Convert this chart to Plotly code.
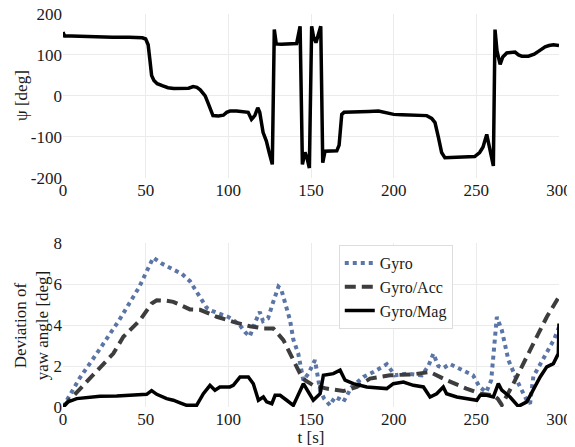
import plotly.graph_objects as go
from plotly.subplots import make_subplots

# ---- Top panel: yaw angle psi ----
t_psi = [0, 0.5, 1, 5, 10, 15, 20, 25, 30, 40, 48, 50, 51.5, 52.5, 53.6, 55, 57, 60, 63.5, 67,
         70, 73, 76, 78.7, 81, 83, 86, 88, 90.7, 94, 97, 99, 101, 105, 109, 112, 114, 116, 117.8, 119,
         121, 123, 124.7, 126.6, 127.8, 129, 132, 136, 139, 141.3, 143.4, 144.8, 146.4, 147.5, 149, 150.4, 151.5, 153, 155.9, 157.1,
         158.5, 162, 165.6, 167, 168.6, 170, 175, 180, 185, 190.8, 195, 200, 205, 210, 215, 220, 223, 225, 227, 229,
         231, 235, 240, 245, 249, 252, 254, 256.3, 258, 260.3, 261.3, 262.5, 264.4, 266, 268.4, 271, 273.4, 275.5, 277.5, 281.5,
         285, 288, 291.6, 294, 296.6, 300]
psi = [156, 148, 146, 146, 145, 145, 144, 144, 143, 143, 142, 139, 125, 90, 50, 38, 30, 25, 20, 18,
       19, 18, 19, 23, 21, 15, 0, -20, -48, -49, -47, -40, -37, -37, -38, -40, -57, -48, -29, -40,
       -89, -110, -138, -167, 162, 127, 126, 127, 126, 128, 170, -167, -138, -150, -176, 170, 145, 130, 170, -163,
       -135, -135, -134, -120, -45, -40, -40, -40, -38, -37, -40, -45, -46, -47, -46, -48, -55, -65, -100, -138,
       -151, -150, -150, -149, -148, -138, -125, -94, -130, -171, 162, 110, 77, 95, 105, 106, 107, 100, 97, 97,
       102, 110, 120, 123, 125, 123]
psi_ticks = [-200, -100, 0, 100, 200]
psi_ticklabels = ["-200", "-100", "0", "100", "200"]

# ---- Bottom panel: deviation of yaw angle ----
t_gyro = [0, 10, 22, 34, 46, 54.6, 60, 66.7, 72, 76.8, 81, 86.9, 90, 95, 100, 103, 107, 110, 113, 116,
          119, 121, 124, 127, 130.3, 132, 135, 137.3, 139.3, 142.3, 145.4, 148.4, 152.4, 155.5, 158, 161.5, 164.5, 167, 169.6, 174.6,
          181.7, 187.7, 195.8, 200.8, 207.9, 212, 217, 221, 224, 227, 230, 234, 241, 248, 252, 256, 259, 262.4, 265.4, 269.4,
          275.5, 280.5, 282.5, 284.5, 288, 293.6, 297, 300]
gyro = [0, 1.4, 2.8, 4.25, 5.85, 7.3, 7.0, 6.75, 6.5, 6.15, 5.6, 4.85, 4.7, 4.57, 4.4, 4.25, 4.0, 3.67, 3.45, 4.1,
        4.65, 4.2, 4.33, 5.1, 5.88, 5.75, 4.9, 4.25, 3.3, 2.6, 1.3, 1.63, 2.29, 0.82, 0.4, 0.08, 0.49, 0.4, 0.25, 0.98,
        1.47, 1.71, 2.09, 1.55, 1.63, 1.6, 1.55, 2.0, 2.61, 2.0, 1.9, 2.1, 1.8, 1.55, 0.98, 0.73, 1.31, 4.4, 3.76, 2.29,
        1.14, 0.33, 0.16, 1.5, 2.0, 2.78, 3.3, 3.9]

t_acc = [0, 10.3, 22.4, 30.4, 36.5, 46.6, 53.6, 56.7, 62, 66.7, 72, 76.8, 82.9, 93, 103, 113, 121.2, 127.2, 133.3, 139.3,
         143.4, 146.4, 151.4, 159.5, 169.6, 177.7, 185.7, 197.8, 212, 222, 232, 244, 252.3, 260.3, 263, 265.4, 272.4, 284.5, 292.6, 300]
gyro_acc = [0, 0.9, 1.96, 2.61, 3.43, 4.25, 5.06, 5.22, 5.2, 5.14, 4.95, 4.77, 4.75, 4.41, 4.16, 3.95, 3.84, 3.84, 3.27, 2.29,
            1.63, 1.31, 1.06, 0.9, 0.78, 0.98, 1.39, 1.55, 1.6, 1.71, 1.31, 0.9, 0.65, 0.57, 0.4, 0.1, 1.14, 3.1, 4.4, 5.39]

t_mag = [0, 3, 8.3, 16.3, 22.4, 32.5, 42.5, 50.6, 53.6, 56.7, 62.7, 66.7, 70.8, 74.8, 80.8, 84.9, 88.9, 91.9, 94.9, 100.9,
         103, 107.1, 112.1, 115.1, 118.2, 121.2, 123.2, 126.3, 128.3, 131.3, 135.3, 139.3, 145.4, 151.4, 155.5, 157.5, 163.5, 167.6, 170.6, 175.6,
         183.7, 191.8, 195.8, 199.8, 205.9, 211.9, 218, 222, 226, 230, 232, 238.2, 244.2, 250.3, 252.3, 256.3, 260.3, 263.3, 265.4, 270.4,
         275.4, 280.5, 288.6, 292.6, 296.6, 299.6, 300]
gyro_mag = [0, 0.25, 0.41, 0.49, 0.52, 0.54, 0.57, 0.62, 0.8, 0.62, 0.41, 0.33, 0.2, 0.08, 0.08, 0.65, 1.06, 0.82, 0.98, 0.98,
            1.06, 1.47, 1.47, 1.14, 0.33, 0.49, 0.25, 0.16, 0.57, 0.57, 0.33, 0.08, 1.14, 0.33, 0.65, 1.55, 1.63, 1.8, 1.31, 1.14,
            0.98, 0.9, 0.9, 1.14, 1.22, 1.06, 0.98, 0.49, 0.65, 0.98, 0.65, 0.49, 0.41, 0.33, 0.57, 0.57, 0.49, 1.14, 0.82, 0.49,
            0.03, 0.25, 1.47, 1.96, 2.12, 2.61, 4.08]

FONT = "Liberation Serif, Times New Roman, Times, serif"
TXT = "#1a1a1a"
GRID = "#ebebeb"

fig = make_subplots(rows=2, cols=1, vertical_spacing=0.1)

fig.add_trace(go.Scatter(x=t_psi, y=psi, mode="lines", name="Gyro/Acc/Mag",
                         line=dict(color="black", width=3.5), legend="legend"), row=1, col=1)

fig.add_trace(go.Scatter(x=t_gyro, y=gyro, mode="lines", name="Gyro",
                         line=dict(color="#5a75a6", width=4, dash="dot"), legend="legend2"), row=2, col=1)
fig.add_trace(go.Scatter(x=t_acc, y=gyro_acc, mode="lines", name="Gyro/Acc",
                         line=dict(color="#3d3d3d", width=4, dash="11px,6px"), legend="legend2"), row=2, col=1)
fig.add_trace(go.Scatter(x=t_mag, y=gyro_mag, mode="lines", name="Gyro/Mag",
                         line=dict(color="black", width=3.5), legend="legend2"), row=2, col=1)

axis_common = dict(showgrid=True, gridcolor=GRID, gridwidth=1, zeroline=False, showline=False,
                   ticks="", automargin=False, ticklabeloverflow="allow",
                   tickfont=dict(family=FONT, size=17, color=TXT))

fig.update_xaxes(range=[0, 300], dtick=50, **axis_common)
fig.update_xaxes(domain=[0, 1], row=1, col=1)
fig.update_xaxes(title=dict(text="t [s]", font=dict(family=FONT, size=17, color=TXT), standoff=0), row=2, col=1)

fig.update_yaxes(**axis_common)
fig.update_yaxes(range=[-200, 200], tickvals=psi_ticks, ticktext=psi_ticklabels,
                 domain=[0.583, 1.0], row=1, col=1)
fig.update_yaxes(range=[0, 8], dtick=2, domain=[0.0, 0.4165], row=2, col=1)

# page body has an 8px margin, so the figure is 8px smaller and margins compensate
fig.update_layout(
    width=567, height=439,
    margin=dict(l=55, r=16, t=6, b=40),
    paper_bgcolor="white", plot_bgcolor="white",
    font=dict(family=FONT, size=17, color=TXT),
    legend=dict(x=0.538, y=0.98, xanchor="left", yanchor="top",
                bgcolor="white", bordercolor="#dddddd", borderwidth=1,
                font=dict(family=FONT, size=16, color=TXT), tracegroupgap=0),
    legend2=dict(x=0.556, y=0.412, xanchor="left", yanchor="top",
                 bgcolor="white", bordercolor="#dddddd", borderwidth=1,
                 font=dict(family=FONT, size=16, color=TXT), tracegroupgap=0),
    annotations=[
        dict(text="ψ [deg]", xref="paper", yref="paper", x=0, y=0.7915, xshift=-41,
             textangle=-90, showarrow=False, xanchor="center", yanchor="middle",
             font=dict(family=FONT, size=17, color=TXT)),
        dict(text="Deviation of<br>yaw angle [deg]", xref="paper", yref="paper", x=0, y=0.208, xshift=-32,
             textangle=-90, showarrow=False, xanchor="center", yanchor="middle",
             font=dict(family=FONT, size=17, color=TXT)),
    ],
)

fig.write_html("out.html")
